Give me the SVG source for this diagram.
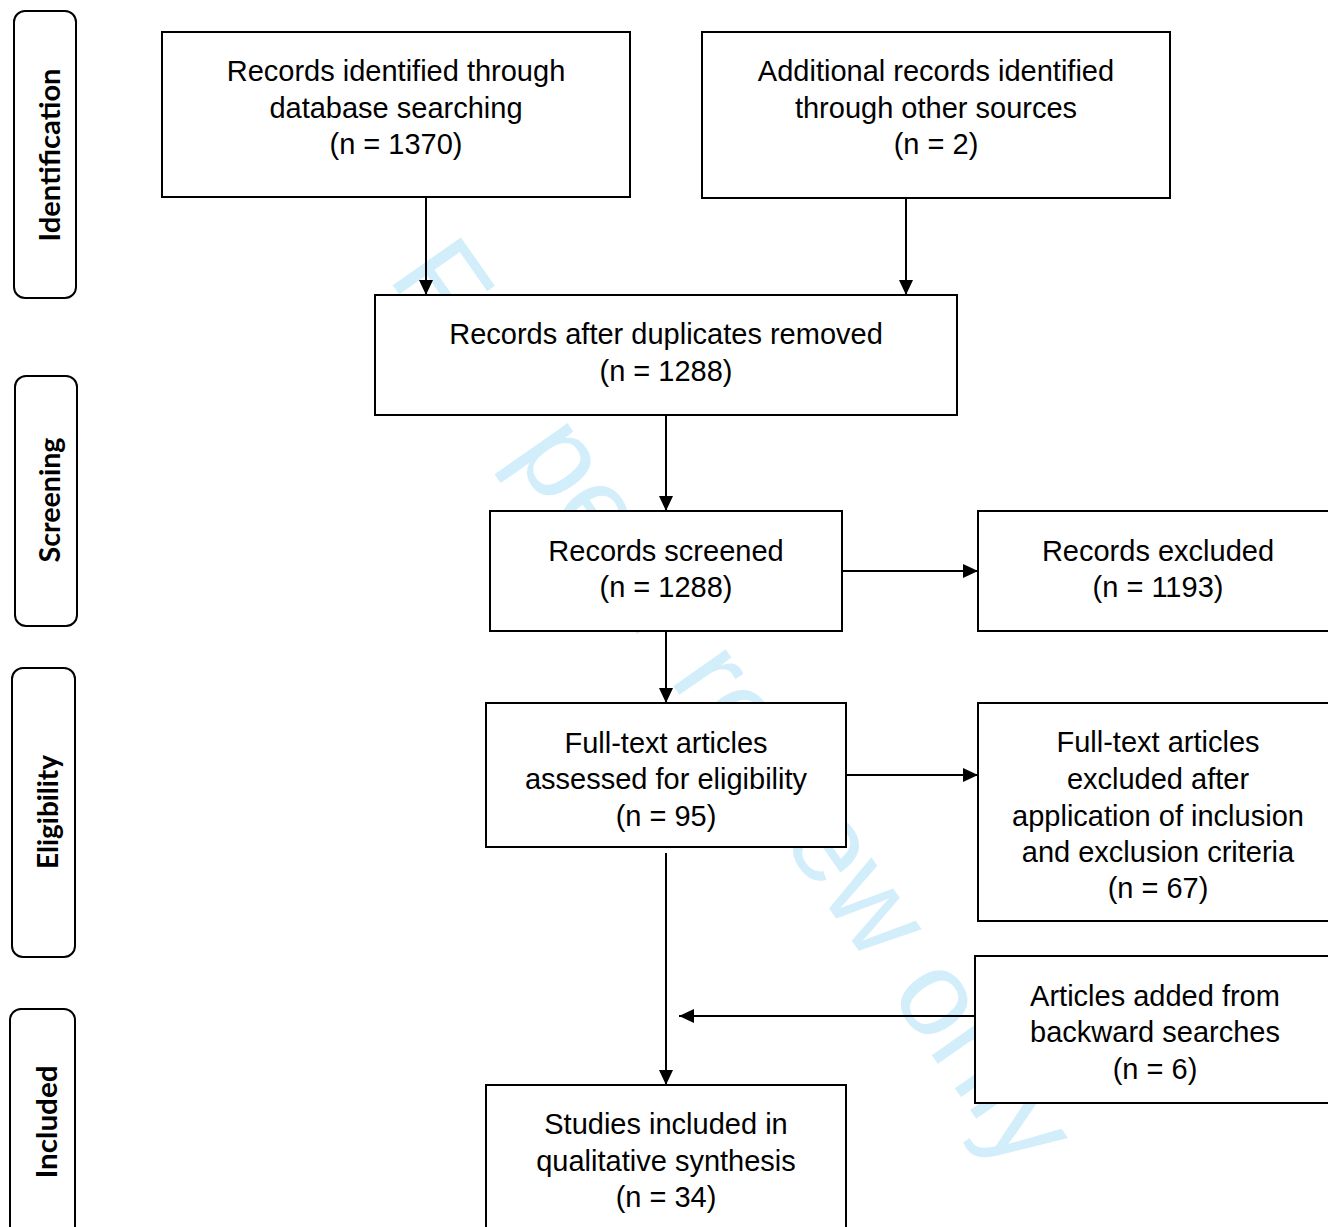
<svg xmlns="http://www.w3.org/2000/svg" width="1328" height="1227" viewBox="0 0 1328 1227">
<defs>
<marker id="arr" viewBox="0 0 15 14" refX="15" refY="7" markerWidth="15" markerHeight="14" markerUnits="userSpaceOnUse" orient="auto">
<path d="M0,0 L15,7 L0,14 z" fill="#000"/>
</marker>
<style>
.box{fill:#fff;stroke:#000;stroke-width:2}
.side{fill:#fff;stroke:#000;stroke-width:2}
.t{font-family:"Liberation Sans",Arial,sans-serif;font-size:29px;fill:#000;text-anchor:middle}
.s{font-family:Lato,"Liberation Sans",sans-serif;font-weight:bold;font-size:29px;fill:#000;text-anchor:middle}
.c{stroke:#000;stroke-width:2;fill:none;marker-end:url(#arr)}
.wm{font-family:"Liberation Sans",Arial,sans-serif;font-size:121px;fill:#d3eefb}
</style>
</defs>
<rect width="1328" height="1227" fill="#fff"/>
<text class="wm" transform="translate(387,277) rotate(55)">For peer review only</text>

<g id="side-identification"><rect class="side" x="14" y="11" width="62" height="287" rx="11"/><text class="s" transform="translate(60,155) rotate(-90)" textLength="173" lengthAdjust="spacingAndGlyphs">Identification</text></g>
<g id="side-screening"><rect class="side" x="15" y="376" width="62" height="250" rx="11"/><text class="s" transform="translate(60,500) rotate(-90)" textLength="125" lengthAdjust="spacingAndGlyphs">Screening</text></g>
<g id="side-eligibility"><rect class="side" x="12" y="668" width="63" height="289" rx="11"/><text class="s" transform="translate(58,812) rotate(-90)" textLength="114" lengthAdjust="spacingAndGlyphs">Eligibility</text></g>
<g id="side-included"><rect class="side" x="10" y="1009" width="65" height="240" rx="11"/><text class="s" transform="translate(57,1122) rotate(-90)" textLength="113" lengthAdjust="spacingAndGlyphs">Included</text></g>

<g id="connectors">
<line class="c" x1="426" y1="197" x2="426" y2="295"/>
<line class="c" x1="906" y1="198" x2="906" y2="295"/>
<line class="c" x1="666" y1="415" x2="666" y2="511"/>
<line class="c" x1="842" y1="571" x2="978" y2="571"/>
<line class="c" x1="666" y1="631" x2="666" y2="703"/>
<line class="c" x1="846" y1="775" x2="978" y2="775"/>
<line class="c" x1="666" y1="853" x2="666" y2="1085"/>
<line class="c" x1="975" y1="1016" x2="679" y2="1016"/>
</g>

<g id="n1"><rect class="box" x="162" y="32" width="468" height="165"/><text class="t" x="396" y="81">Records identified through</text><text class="t" x="396" y="118">database searching</text><text class="t" x="396" y="154">(n = 1370)</text></g>
<g id="n2"><rect class="box" x="702" y="32" width="468" height="166"/><text class="t" x="936" y="81">Additional records identified</text><text class="t" x="936" y="118">through other sources</text><text class="t" x="936" y="154">(n = 2)</text></g>
<g id="n3"><rect class="box" x="375" y="295" width="582" height="120"/><text class="t" x="666" y="344">Records after duplicates removed</text><text class="t" x="666" y="381">(n = 1288)</text></g>
<g id="n4"><rect class="box" x="490" y="511" width="352" height="120"/><text class="t" x="666" y="561">Records screened</text><text class="t" x="666" y="597">(n = 1288)</text></g>
<g id="n5"><rect class="box" x="978" y="511" width="370" height="120"/><text class="t" x="1158" y="561">Records excluded</text><text class="t" x="1158" y="597">(n = 1193)</text></g>
<g id="n6"><rect class="box" x="486" y="703" width="360" height="144"/><text class="t" x="666" y="753">Full-text articles</text><text class="t" x="666" y="789">assessed for eligibility</text><text class="t" x="666" y="826">(n = 95)</text></g>
<g id="n7"><rect class="box" x="978" y="703" width="370" height="218"/><text class="t" x="1158" y="752">Full-text articles</text><text class="t" x="1158" y="789">excluded after</text><text class="t" x="1158" y="826">application of inclusion</text><text class="t" x="1158" y="862">and exclusion criteria</text><text class="t" x="1158" y="898">(n = 67)</text></g>
<g id="n8"><rect class="box" x="975" y="956" width="373" height="147"/><text class="t" x="1155" y="1006">Articles added from</text><text class="t" x="1155" y="1042">backward searches</text><text class="t" x="1155" y="1079">(n = 6)</text></g>
<g id="n9"><rect class="box" x="486" y="1085" width="360" height="160"/><text class="t" x="666" y="1134">Studies included in</text><text class="t" x="666" y="1171">qualitative synthesis</text><text class="t" x="666" y="1207">(n = 34)</text></g>
</svg>
